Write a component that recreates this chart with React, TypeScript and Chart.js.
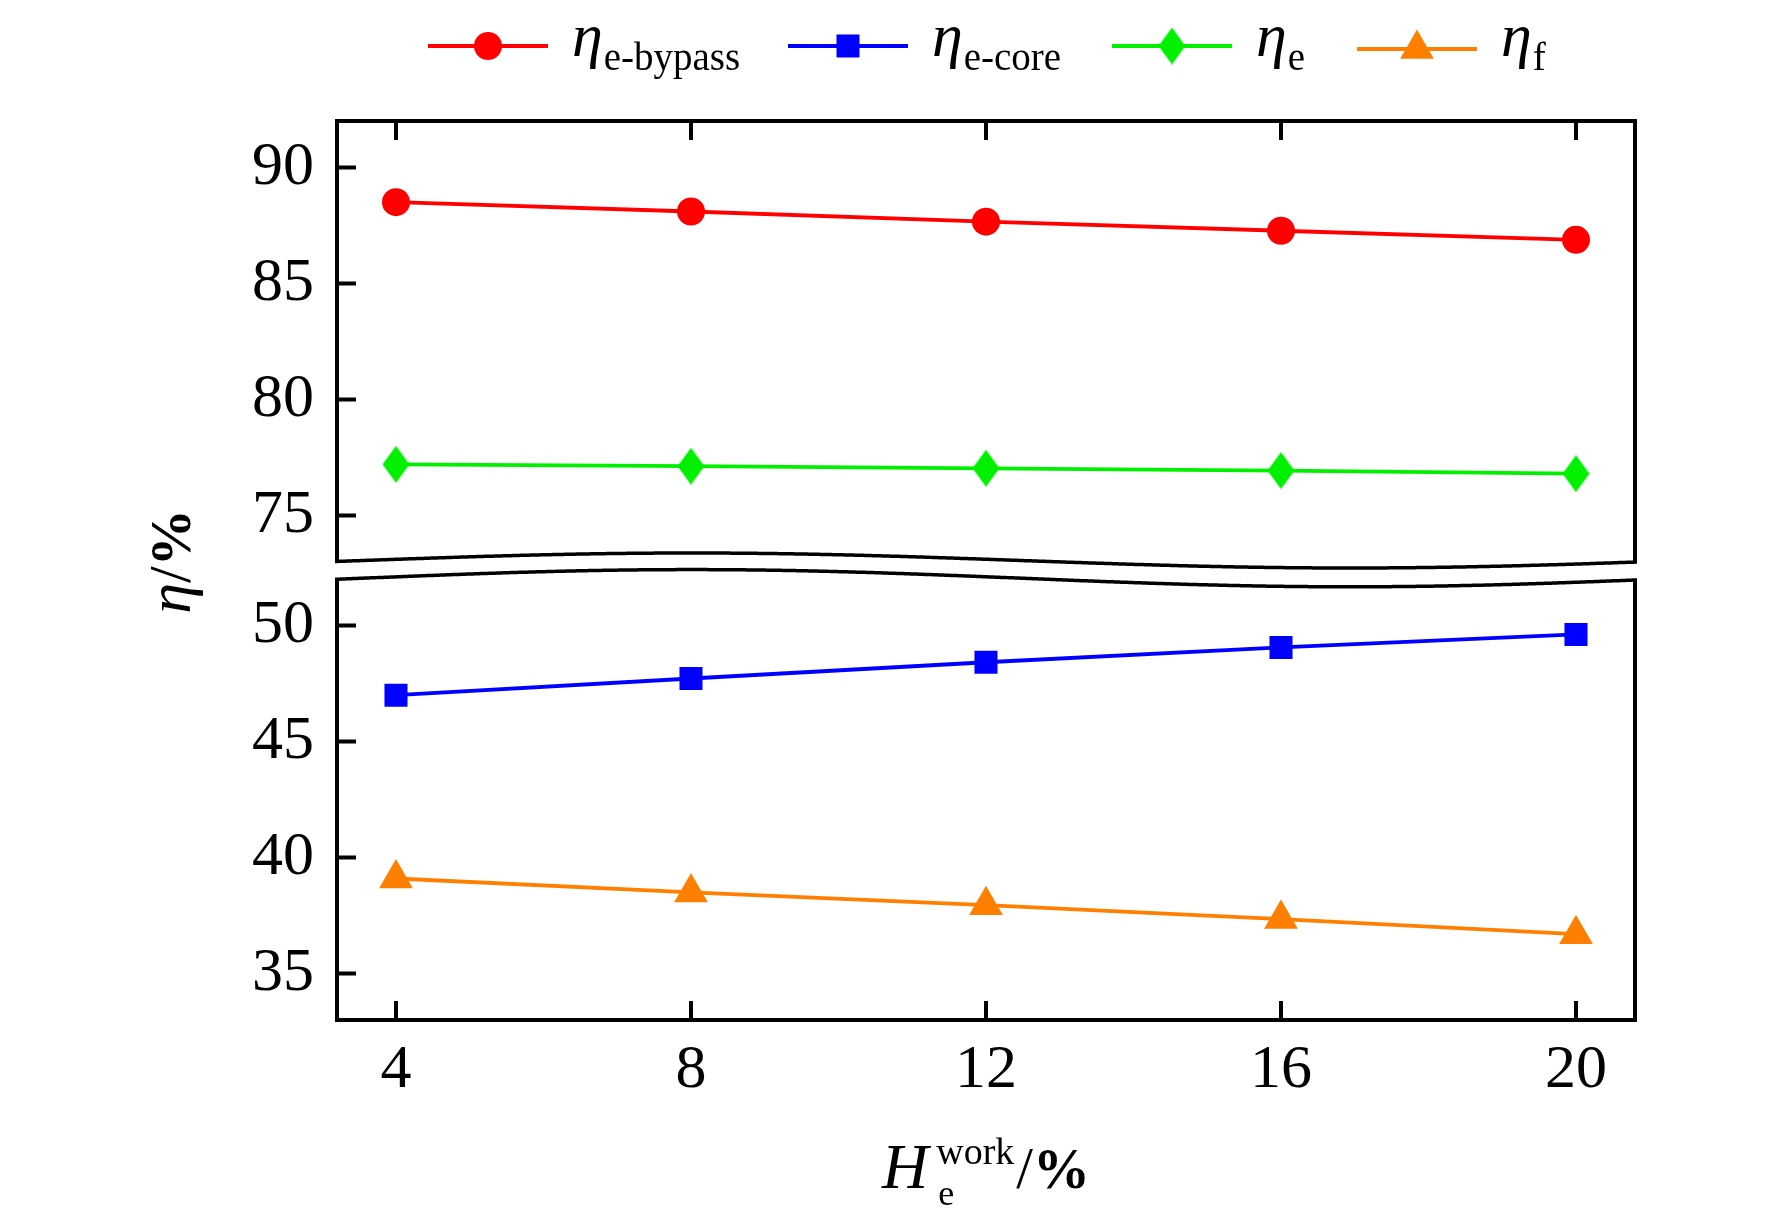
import React, { useEffect, useRef } from 'react';
import { Chart, registerables } from 'chart.js';

Chart.register(...registerables);

// ---------- data ----------
const X_VALUES = [4, 8, 12, 16, 20];
const ETA_E_BYPASS = [88.5, 88.1, 87.66, 87.27, 86.88];
const ETA_E_CORE = [47.0, 47.72, 48.42, 49.06, 49.62];
const ETA_E = [77.2, 77.12, 77.03, 76.93, 76.8];
const ETA_F = [39.1, 38.5, 37.95, 37.35, 36.7];
const X_TICKS = [4, 8, 12, 16, 20];
const Y_TICKS_TOP = [75, 80, 85, 90];
const Y_TICKS_BOTTOM = [35, 40, 45, 50];
const SERIES_SUBSCRIPTS = ['e-bypass', 'e-core', 'e', 'f'];

// ---------- styles ----------
const RED = '#ff0000';
const BLUE = '#0000ff';
const GREEN = '#00f000';
const ORANGE = '#ff8000';
const FONT = '"Liberation Serif", "Times New Roman", serif';
const LEGEND_STARTS = [428, 788, 1112, 1357];

function makeDiamond(w: number, h: number, color: string) {
  const c = document.createElement('canvas');
  c.width = w;
  c.height = h;
  const g = c.getContext('2d')!;
  g.fillStyle = color;
  g.beginPath();
  g.moveTo(w / 2, 0);
  g.lineTo(w, h / 2);
  g.lineTo(w / 2, h);
  g.lineTo(0, h / 2);
  g.closePath();
  g.fill();
  return c;
}

function drawMarker(ctx: CanvasRenderingContext2D, style: string, x: number, y: number, color: string, diamond: HTMLCanvasElement) {
  ctx.fillStyle = color;
  ctx.beginPath();
  if (style === 'circle') {
    ctx.arc(x, y, 14, 0, Math.PI * 2);
    ctx.fill();
  } else if (style === 'rect') {
    ctx.rect(x - 11.5, y - 11.5, 23, 23);
    ctx.fill();
  } else if (style === 'diamond') {
    ctx.drawImage(diamond, x - diamond.width / 2, y - diamond.height / 2);
  } else if (style === 'triangle') {
    const r = 19.5;
    let a = 0;
    ctx.moveTo(x + Math.sin(a) * r, y - Math.cos(a) * r);
    a += (2 * Math.PI) / 3;
    ctx.lineTo(x + Math.sin(a) * r, y - Math.cos(a) * r);
    a += (2 * Math.PI) / 3;
    ctx.lineTo(x + Math.sin(a) * r, y - Math.cos(a) * r);
    ctx.closePath();
    ctx.fill();
  }
}

export default function App() {
  const ref = useRef<HTMLCanvasElement | null>(null);

  useEffect(() => {
    if (!ref.current) return;
    const diamond = makeDiamond(27, 37, GREEN);

    const series = [
      { values: ETA_E_BYPASS, color: RED, style: 'circle', axis: 'yTop', sub: SERIES_SUBSCRIPTS[0] },
      { values: ETA_E_CORE, color: BLUE, style: 'rect', axis: 'yBot', sub: SERIES_SUBSCRIPTS[1] },
      { values: ETA_E, color: GREEN, style: 'diamond', axis: 'yTop', sub: SERIES_SUBSCRIPTS[2] },
      { values: ETA_F, color: ORANGE, style: 'triangle', axis: 'yBot', sub: SERIES_SUBSCRIPTS[3] },
    ];

    const radiusFor = (s: string) => (s === 'circle' ? 14 : s === 'rect' ? 16.3 : s === 'triangle' ? 19.5 : 14);

    const datasets = series.map((s) => ({
      label: 'η' + s.sub,
      data: X_VALUES.map((x, i) => ({ x, y: s.values[i] })),
      yAxisID: s.axis,
      borderColor: s.color,
      backgroundColor: s.color,
      borderWidth: 3.8,
      pointStyle: (s.style === 'diamond' ? diamond : s.style) as any,
      pointRadius: radiusFor(s.style),
      pointHoverRadius: radiusFor(s.style),
      pointBorderWidth: 0,
      pointBackgroundColor: s.color,
      tension: 0,
    }));

    const framePlugin = {
      id: 'frame',
      afterDraw(chart: any) {
        const { ctx, chartArea: ca, scales } = chart;
        const yT = scales.yTop;
        const yB = scales.yBot;
        const xs = scales.x;
        ctx.save();
        ctx.strokeStyle = '#000';
        ctx.lineWidth = 4;
        ctx.strokeRect(ca.left, ca.top, ca.right - ca.left, ca.bottom - ca.top);

        const TL = 19;
        ctx.beginPath();
        for (const t of xs.ticks) {
          const px = xs.getPixelForValue(t.value);
          ctx.moveTo(px, ca.bottom);
          ctx.lineTo(px, ca.bottom - TL);
          ctx.moveTo(px, ca.top);
          ctx.lineTo(px, ca.top + TL);
        }
        for (const s of [yT, yB]) {
          for (const t of s.ticks) {
            const py = s.getPixelForValue(t.value);
            ctx.moveTo(ca.left, py);
            ctx.lineTo(ca.left + TL, py);
          }
        }
        ctx.stroke();

        // axis break
        const brk = yT.bottom;
        const W = ca.right - ca.left;
        const wave = (x: number, base: number, amp: number) =>
          base - amp * Math.cos((2 * Math.PI * ((x - ca.left) / W - 0.2735)) / 1.014);
        const upBase = brk - 10;
        const lowBase = brk + 7.7;
        const x0 = ca.left - 4;
        const x1 = ca.right + 4;
        ctx.fillStyle = '#fff';
        ctx.beginPath();
        for (let x = x0; x <= x1; x += 4) ctx.lineTo(x, wave(x, upBase, 7.5) + 1);
        for (let x = x1; x >= x0; x -= 4) ctx.lineTo(x, wave(x, lowBase, 8.6) - 1);
        ctx.closePath();
        ctx.fill();

        ctx.lineWidth = 3.5;
        ctx.strokeStyle = '#000';
        ctx.beginPath();
        for (let x = ca.left - 2; x <= ca.right + 2; x += 2) {
          if (x === ca.left - 2) ctx.moveTo(x, wave(x, upBase, 7.5));
          else ctx.lineTo(x, wave(x, upBase, 7.5));
        }
        ctx.stroke();
        ctx.beginPath();
        for (let x = ca.left - 2; x <= ca.right + 2; x += 2) {
          if (x === ca.left - 2) ctx.moveTo(x, wave(x, lowBase, 8.6));
          else ctx.lineTo(x, wave(x, lowBase, 8.6));
        }
        ctx.stroke();

        // y title
        ctx.fillStyle = '#000';
        ctx.textBaseline = 'alphabetic';
        ctx.textAlign = 'left';
        ctx.save();
        ctx.translate(190, (ca.top + ca.bottom) / 2 - 9);
        ctx.rotate(-Math.PI / 2);
        ctx.font = `italic 62px ${FONT}`;
        const w1 = ctx.measureText('η').width;
        ctx.font = `60px ${FONT}`;
        const w2 = ctx.measureText('/').width;
        ctx.font = `bold 57px ${FONT}`;
        const w3 = ctx.measureText('%').width;
        let tx = -(w1 + w2 + w3) / 2;
        ctx.font = `italic 62px ${FONT}`;
        ctx.fillText('η', tx, 0);
        tx += w1;
        ctx.font = `60px ${FONT}`;
        ctx.fillText('/', tx, 0);
        tx += w2;
        ctx.font = `bold 57px ${FONT}`;
        ctx.fillText('%', tx, 0);
        ctx.restore();

        // x title
        const by = 1188;
        ctx.font = `italic 64px ${FONT}`;
        const hW = ctx.measureText('H').width;
        ctx.font = `38px ${FONT}`;
        const supW = ctx.measureText('work').width;
        ctx.font = `60px ${FONT}`;
        const slW = ctx.measureText('/').width;
        ctx.font = `bold 57px ${FONT}`;
        const pcW = ctx.measureText('%').width;
        const total = hW + 8 + supW + 2 + slW + pcW;
        let hx = (ca.left + ca.right) / 2 - total / 2;
        ctx.font = `italic 64px ${FONT}`;
        ctx.fillText('H', hx, by);
        hx += hW + 8;
        ctx.font = `38px ${FONT}`;
        ctx.fillText('work', hx, by - 24);
        ctx.font = `36px ${FONT}`;
        ctx.fillText('e', hx + 2, by + 17);
        hx += supW + 2;
        ctx.font = `60px ${FONT}`;
        ctx.fillText('/', hx, by);
        hx += slW;
        ctx.font = `bold 57px ${FONT}`;
        ctx.fillText('%', hx, by);

        // legend
        series.forEach((s, i) => {
          const lx = LEGEND_STARTS[i];
          const ly = s.style === 'triangle' ? 49 : 46;
          ctx.strokeStyle = s.color;
          ctx.lineWidth = 4;
          ctx.beginPath();
          ctx.moveTo(lx, ly);
          ctx.lineTo(lx + 120, ly);
          ctx.stroke();
          drawMarker(ctx, s.style, lx + 60, ly, s.color, diamond);
          let px = lx + 120 + 24;
          ctx.fillStyle = '#000';
          ctx.font = `italic 62px ${FONT}`;
          ctx.fillText('η', px, 56);
          px += ctx.measureText('η').width + 1;
          ctx.font = `39px ${FONT}`;
          ctx.fillText(s.sub, px, 70);
        });
        ctx.restore();
      },
    };

    const tickFont = { family: FONT, size: 62 };

    const chart = new Chart(ref.current, {
      type: 'line',
      data: { datasets: datasets as any },
      options: {
        animation: false,
        responsive: false,
        events: [],
        layout: { padding: { top: 121, right: 137, left: 0, bottom: 0 } },
        plugins: { legend: { display: false }, tooltip: { enabled: false } },
        scales: {
          x: {
            type: 'linear',
            min: 3.2,
            max: 20.8,
            afterBuildTicks: (s: any) => {
              s.ticks = X_TICKS.map((v) => ({ value: v }));
            },
            afterFit: (s: any) => {
              s.height = 201;
            },
            ticks: { font: tickFont, color: '#000', padding: 14, maxRotation: 0 },
            grid: { display: false, drawTicks: false },
            border: { display: false },
          },
          yTop: {
            type: 'linear',
            position: 'left',
            stack: 'eta',
            stackWeight: 1,
            weight: 2,
            min: 72.625,
            max: 92,
            afterBuildTicks: (s: any) => {
              s.ticks = Y_TICKS_TOP.map((v) => ({ value: v }));
            },
            afterFit: (s: any) => {
              s.width = 337;
            },
            ticks: { font: tickFont, color: '#000', padding: 23 },
            grid: { display: false, drawTicks: false },
            border: { display: false },
          },
          yBot: {
            type: 'linear',
            position: 'left',
            stack: 'eta',
            stackWeight: 1,
            weight: 1,
            min: 33,
            max: 52.375,
            afterBuildTicks: (s: any) => {
              s.ticks = Y_TICKS_BOTTOM.map((v) => ({ value: v }));
            },
            afterFit: (s: any) => {
              s.width = 337;
            },
            ticks: { font: tickFont, color: '#000', padding: 23 },
            grid: { display: false, drawTicks: false },
            border: { display: false },
          },
        } as any,
      },
      plugins: [framePlugin],
    });
    return () => chart.destroy();
  }, []);

  return (
    <div style={{ position: 'absolute', left: 0, top: 0, width: 1772, height: 1221, background: '#fff' }}>
      <canvas ref={ref} width={1772} height={1221} style={{ display: 'block', width: 1772, height: 1221 }} />
    </div>
  );
}
